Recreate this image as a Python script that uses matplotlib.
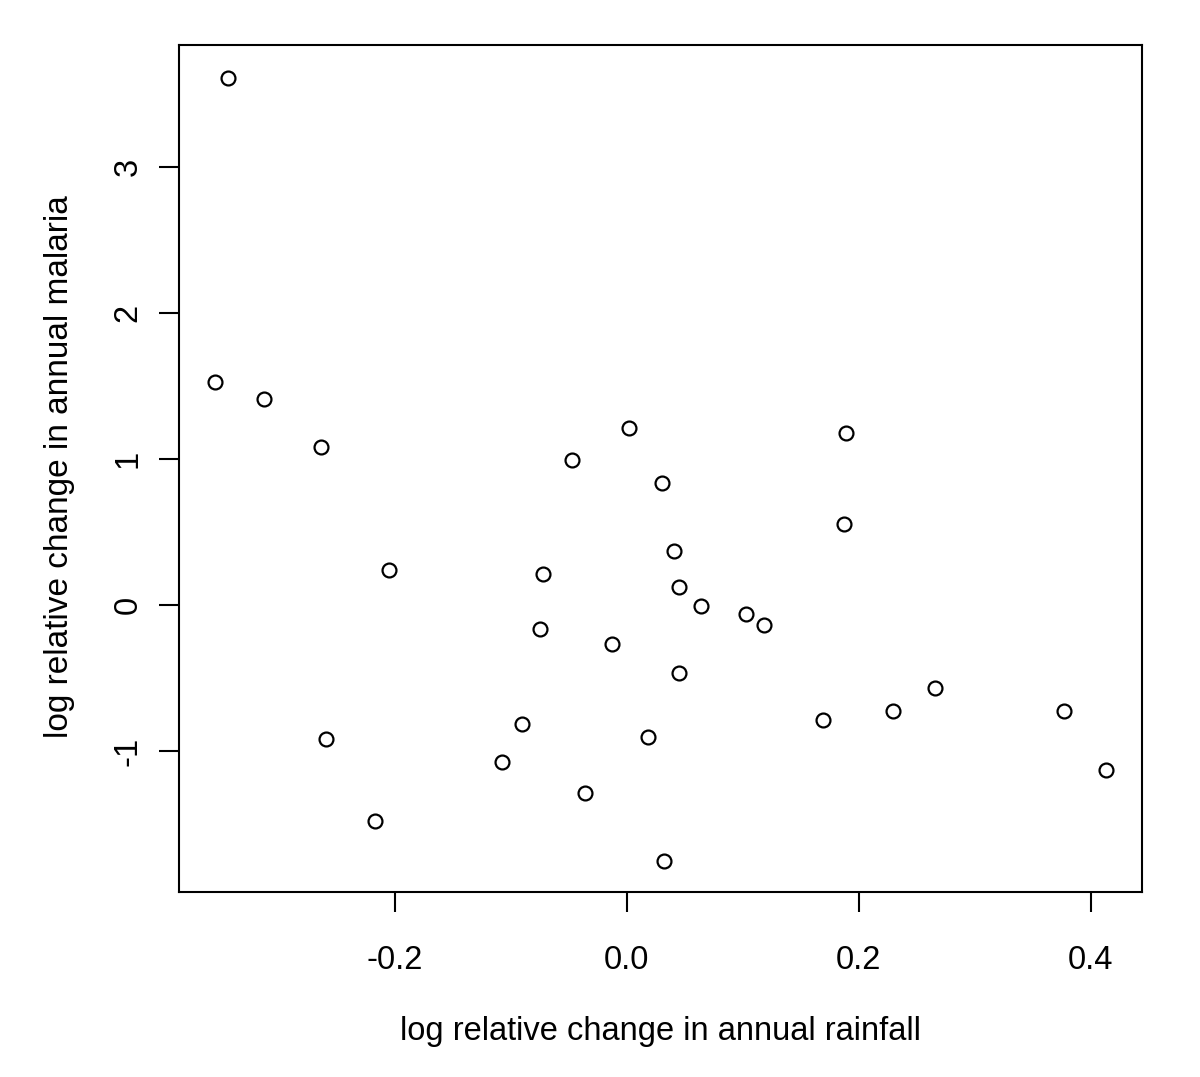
import matplotlib
matplotlib.use("Agg")
import matplotlib.pyplot as plt

# log relative change in annual rainfall / malaria
rainfall = [-0.344, -0.355, -0.313, -0.264, -0.205, -0.259, -0.217, -0.108,
            -0.090, -0.075, -0.072, -0.047, -0.036, -0.013, 0.002, 0.018,
            0.030, 0.032, 0.041, 0.045, 0.045, 0.064, 0.103, 0.118,
            0.169, 0.187, 0.189, 0.229, 0.266, 0.377, 0.413]
malaria = [3.61, 1.527, 1.411, 1.082, 0.240, -0.918, -1.479, -1.075,
           -0.815, -0.164, 0.212, 0.993, -1.288, -0.267, 1.212, -0.904,
           0.836, -1.753, 0.370, 0.123, -0.466, -0.007, -0.062, -0.137,
           -0.788, 0.555, 1.178, -0.726, -0.568, -0.726, -1.130]

x_ticks = [-0.2, 0.0, 0.2, 0.4]
x_tick_labels = ["-0.2", "0.0", "0.2", "0.4"]
y_ticks = [-1, 0, 1, 2, 3]
y_tick_labels = ["-1", "0", "1", "2", "3"]

plt.rcParams['font.family'] = ['Liberation Sans', 'DejaVu Sans']

fig = plt.figure(figsize=(12, 10.77), dpi=100)
ax = fig.add_axes([179 / 1200, 1 - 892 / 1077, 963 / 1200, 847 / 1077])

ax.plot(rainfall, malaria, linestyle='none', marker='o', markersize=10,
        markerfacecolor='none', markeredgecolor='black', markeredgewidth=1.6)

ax.set_xlim(-0.386, 0.444)
ax.set_ylim(-1.966, 3.836)

ax.set_xticks(x_ticks)
ax.set_xticklabels(x_tick_labels)
ax.set_yticks(y_ticks)
ax.set_yticklabels(y_tick_labels, rotation=90, va='center')

for s in ax.spines.values():
    s.set_linewidth(1.5)

# R-style outward ticks, only where there are labels.
ax.tick_params(axis='both', direction='out', length=14.5, width=1.5, labelsize=23.5)
ax.tick_params(axis='x', pad=24)
ax.tick_params(axis='y', pad=11)

ax.set_xlabel("log relative change in annual rainfall", fontsize=23.5)
ax.set_ylabel("log relative change in annual malaria", fontsize=24)
ax.xaxis.set_label_coords(0.5, -0.165)
ax.xaxis.label.set_va('center')
ax.yaxis.set_label_coords(-0.1236, 0.502)
ax.yaxis.label.set_va('center')

fig.savefig("out.png", dpi=100)
